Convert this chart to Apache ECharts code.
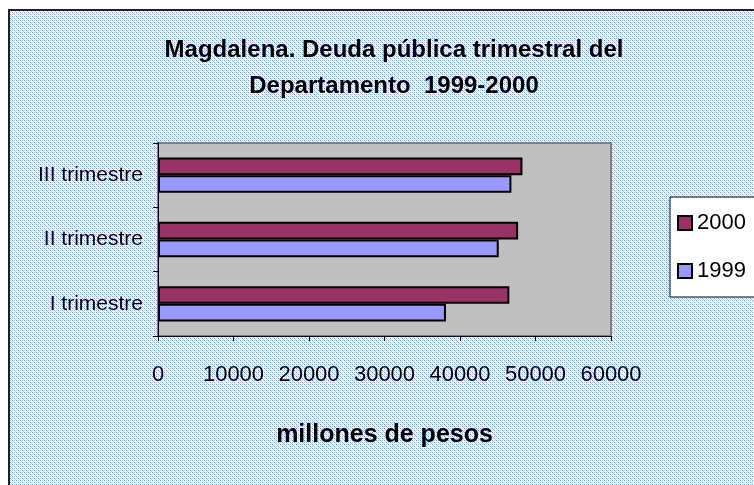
<!DOCTYPE html>
<html>
<head>
<meta charset="utf-8">
<script src="https://cdn.jsdelivr.net/npm/echarts@6/dist/echarts.min.js"></script>
<style>
  html, body { margin: 0; padding: 0; background: #fff; }
  #chart { width: 754px; height: 485px; }
</style>
</head>
<body>
<div id="chart"></div>
<script>
var categories = ['I trimestre', 'II trimestre', 'III trimestre'];
var deuda1999 = [38140, 45130, 46810];
var deuda2000 = [46540, 47700, 48270];
var xTicks = [0, 60000, 10000];   // min, max, interval

var fuente = "'Liberation Sans', Arial, sans-serif";

// fondo punteado tipo Excel
var pat = document.createElement('canvas');
pat.width = 4; pat.height = 4;
var ctx = pat.getContext('2d');
ctx.fillStyle = '#ffffff';
ctx.fillRect(0, 0, 4, 4);
ctx.fillStyle = '#6c9fe0';
ctx.fillRect(0, 0, 1, 1);
ctx.fillRect(2, 2, 1, 1);
ctx.fillStyle = '#b9d3f3';
ctx.fillRect(1, 1, 1, 1);
ctx.fillRect(3, 3, 1, 1);
ctx.fillRect(2, 0, 1, 1);
ctx.fillRect(0, 2, 1, 1);

var myChart = echarts.init(document.getElementById('chart'));

myChart.setOption({
    animation: false,
    graphic: [
        {
            type: 'rect',
            z: -10,
            silent: true,
            shape: { x: 9, y: 10, width: 800, height: 520 },
            style: { fill: { image: pat, repeat: 'repeat' }, stroke: '#222', lineWidth: 2 }
        }
    ],
    title: {
        text: 'Magdalena. Deuda pública trimestral del\nDepartamento  1999-2000',
        left: 389,
        textAlign: 'center',
        top: 27,
        textStyle: {
            fontFamily: fuente,
            fontWeight: 'bold',
            fontSize: 24,
            lineHeight: 36,
            color: '#000'
        }
    },
    legend: {
        orient: 'vertical',
        left: 670,
        top: 197,
        data: ['2000', '1999'],
        icon: 'rect',
        itemWidth: 14,
        itemHeight: 14,
        itemGap: 26,
        padding: [15, 30, 15, 7],
        backgroundColor: '#fff',
        borderColor: '#000',
        borderWidth: 1,
        borderRadius: 0,
        textStyle: { fontFamily: fuente, fontSize: 22, color: '#000' }
    },
    grid: {
        left: 158,
        right: 143,
        top: 143,
        bottom: 149,
        show: true,
        backgroundColor: '#c0c0c0',
        borderColor: '#808080',
        borderWidth: 2
    },
    xAxis: {
        type: 'value',
        min: xTicks[0],
        max: xTicks[1],
        interval: xTicks[2],
        name: 'millones de pesos',
        nameLocation: 'middle',
        nameGap: 87,
        nameTextStyle: {
            fontFamily: fuente,
            fontWeight: 'bold',
            fontSize: 25,
            color: '#000'
        },
        splitLine: { show: false },
        axisLine: { show: true, lineStyle: { color: '#000', width: 1 } },
        axisTick: { show: true, length: 5, lineStyle: { color: '#000' } },
        axisLabel: {
            margin: 28,
            fontFamily: fuente,
            fontSize: 22,
            color: '#000',
            showMaxLabel: true,
            hideOverlap: false,
            formatter: function (v) { return String(v); }
        }
    },
    yAxis: {
        type: 'category',
        data: categories,
        axisLine: { show: true, lineStyle: { color: '#000', width: 1 } },
        axisTick: { show: true, length: 5, lineStyle: { color: '#000' } },
        axisLabel: { margin: 15, fontFamily: fuente, fontSize: 21, color: '#000' }
    },
    series: [
        {
            name: '2000',
            type: 'bar',
            data: deuda2000,
            barGap: '0%',
            barCategoryGap: '45%',
            itemStyle: { color: '#993366', borderColor: '#000', borderWidth: 2 }
        },
        {
            name: '1999',
            type: 'bar',
            data: deuda1999,
            barGap: '0%',
            barCategoryGap: '45%',
            itemStyle: { color: '#9999ff', borderColor: '#000', borderWidth: 2 }
        }
    ]
});

window.addEventListener('resize', function () {
    myChart.resize();
});
</script>
</body>
</html>
